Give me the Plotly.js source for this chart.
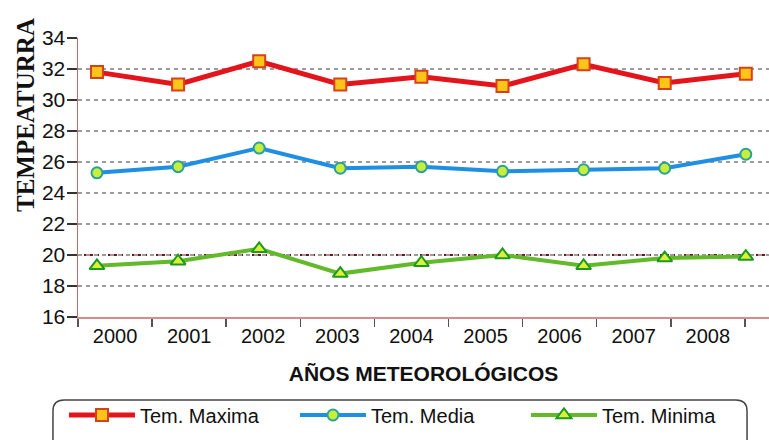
<!DOCTYPE html>
<html>
<head>
<meta charset="utf-8">
<script src="https://cdn.plot.ly/plotly-3.0.1.min.js"></script>
<style>
  html, body { margin: 0; padding: 0; background: #ffffff; }
  #chart { width: 769px; height: 440px; }
</style>
</head>
<body>
<div id="chart"></div>
<script>
// Meteorological years and yearly temperatures (°C)
const years = ['2000', '2001', '2002', '2003', '2004', '2005', '2006', '2007', '2008'];
const tempMaxima = [31.8, 31.0, 32.5, 31.0, 31.5, 30.9, 32.3, 31.1, 31.7];
const tempMedia  = [25.3, 25.7, 26.9, 25.6, 25.7, 25.4, 25.5, 25.6, 26.5];
const tempMinima = [19.3, 19.6, 20.4, 18.8, 19.5, 20.0, 19.3, 19.8, 19.9];
const seriesNames = ['Tem. Maxima', 'Tem. Media', 'Tem. Minima'];

// plot-area geometry in pixels, used for the legend frame
const W = 769, H = 440;
const M = { l: 78, r: 0, t: 38, b: 123 };
const plotW = W - M.l - M.r, plotH = H - M.t - M.b;
const px = x => ((x - M.l) / plotW).toFixed(4);
const py = y => ((H - M.b - y) / plotH).toFixed(4);

function roundedRect(x0, y0, x1, y1, r) {
  return 'M' + px(x0 + r) + ',' + py(y0) +
    ' L' + px(x1 - r) + ',' + py(y0) +
    ' Q' + px(x1) + ',' + py(y0) + ' ' + px(x1) + ',' + py(y0 + r) +
    ' L' + px(x1) + ',' + py(y1 - r) +
    ' Q' + px(x1) + ',' + py(y1) + ' ' + px(x1 - r) + ',' + py(y1) +
    ' L' + px(x0 + r) + ',' + py(y1) +
    ' Q' + px(x0) + ',' + py(y1) + ' ' + px(x0) + ',' + py(y1 - r) +
    ' L' + px(x0) + ',' + py(y0 + r) +
    ' Q' + px(x0) + ',' + py(y0) + ' ' + px(x0 + r) + ',' + py(y0) + ' Z';
}

const sans = 'Liberation Sans, Arial, sans-serif';

const traces = [
  // carries the year labels on the visible category axis
  { x: years, y: tempMaxima, xaxis: 'x', yaxis: 'y', mode: 'none',
    showlegend: false, hoverinfo: 'skip' },
  { x: years, y: tempMaxima, name: seriesNames[0], xaxis: 'x2', yaxis: 'y',
    mode: 'lines+markers', cliponaxis: false,
    line: { color: '#e3141c', width: 5 },
    marker: { symbol: 'square', size: 12, color: '#ffc418', line: { color: '#d8401a', width: 2 } } },
  { x: years, y: tempMedia, name: seriesNames[1], xaxis: 'x2', yaxis: 'y',
    mode: 'lines+markers', cliponaxis: false,
    line: { color: '#1f8fe3', width: 4 },
    marker: { symbol: 'circle', size: 11, color: '#c8ee3c', line: { color: '#2b9f9a', width: 2 } } },
  { x: years, y: tempMinima, name: seriesNames[2], xaxis: 'x2', yaxis: 'y',
    mode: 'lines+markers', cliponaxis: false,
    line: { color: '#62b92a', width: 4 },
    marker: { symbol: 'triangle-up', size: 13, color: '#dcef3a', line: { color: '#1c9a20', width: 2 } } }
];

const layout = {
  width: W, height: H,
  margin: { l: M.l, r: M.r, t: M.t, b: M.b, pad: 0, autoexpand: false },
  paper_bgcolor: '#ffffff', plot_bgcolor: '#ffffff',
  font: { family: sans, color: '#111' },
  showlegend: true,
  xaxis: {
    type: 'category', categoryorder: 'array', categoryarray: years,
    range: [-0.5, 8.826], fixedrange: true,
    tickson: 'boundaries', ticks: 'outside', ticklen: 8, tickwidth: 1.5, tickcolor: '#555',
    showline: true, linecolor: '#d98a8a', linewidth: 1.5,
    showgrid: false, zeroline: false,
    tickfont: { family: sans, size: 20, color: '#111' },
    title: { text: 'AÑOS METEOROLÓGICOS', standoff: 21,
             font: { family: sans, size: 21, color: '#111', weight: 'bold' } }
  },
  xaxis2: {
    type: 'category', categoryorder: 'array', categoryarray: years,
    overlaying: 'x', anchor: 'y', range: [-0.234, 8.286], visible: false, fixedrange: true
  },
  yaxis: {
    range: [16, 34], tick0: 16, dtick: 2, fixedrange: true,
    showgrid: true, gridcolor: '#9c9c9c', gridwidth: 1.5, griddash: '4px,4px',
    showline: true, linecolor: '#c86a6a', linewidth: 1.5, zeroline: false,
    ticks: 'outside', ticklen: 10, tickwidth: 1.5, tickcolor: '#333',
    ticklabelstandoff: -3,
    tickfont: { family: sans, size: 21, color: '#111' }
  },
  shapes: [
    { type: 'line', xref: 'paper', x0: 0, x1: 1, yref: 'y', y0: 20, y1: 20,
      line: { color: '#7a1020', width: 2, dash: '3px,3px' }, layer: 'below' },
    { type: 'path', xref: 'paper', yref: 'paper', path: roundedRect(53, 400, 747, 452, 11),
      line: { color: '#444', width: 1.5 }, fillcolor: 'rgba(0,0,0,0)', layer: 'above' }
  ],
  annotations: [
    { text: 'TEMPEATURRA', textangle: -90, xref: 'paper', yref: 'paper',
      x: px(25), y: py(115), xanchor: 'center', yanchor: 'middle', showarrow: false,
      font: { family: 'Liberation Serif, Times New Roman, serif', size: 25, color: '#111', weight: 'bold' } }
  ],
  legend: {
    orientation: 'h', x: px(64), xanchor: 'left', y: py(415), yanchor: 'middle',
    bgcolor: 'rgba(0,0,0,0)', borderwidth: 0,
    entrywidth: 150, entrywidthmode: 'pixels', itemwidth: 66,
    font: { family: sans, size: 20, color: '#111' }
  }
};

Plotly.newPlot('chart', traces, layout, { displayModeBar: false, staticPlot: true });
</script>
</body>
</html>
